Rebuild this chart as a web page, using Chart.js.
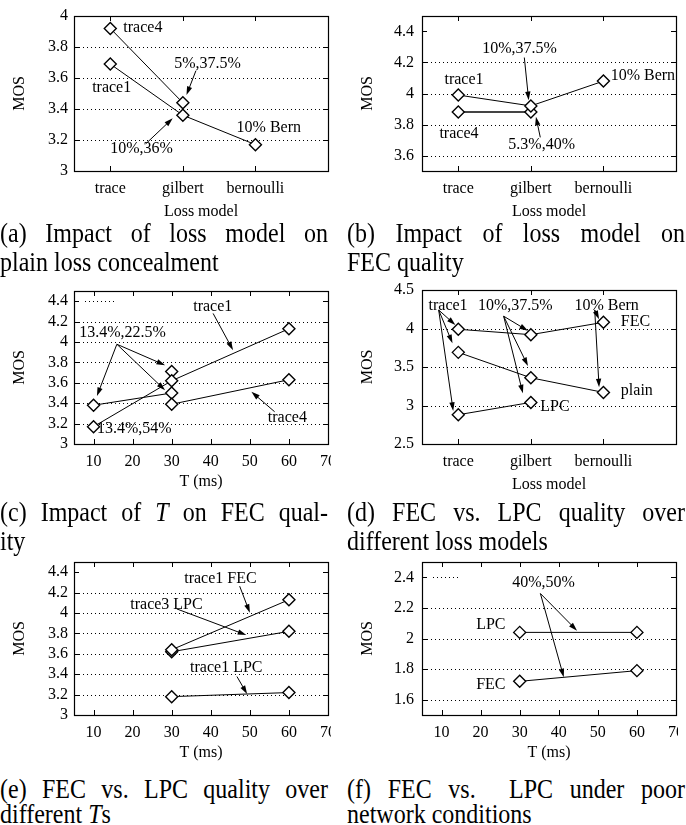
<!DOCTYPE html>
<html><head><meta charset="utf-8">
<script src="https://cdn.jsdelivr.net/npm/chart.js@4.4.1/dist/chart.umd.min.js"></script>
<style>
html,body{margin:0;padding:0;background:#fff;}
body{width:686px;height:825px;position:relative;overflow:hidden;font-family:"Liberation Serif","Times New Roman",serif;color:#000;}
.clip{position:absolute;overflow:hidden;}
.inner{position:absolute;left:0;top:0;width:343px;}
.cap{position:absolute;font-size:24px;line-height:24.5px;transform:scaleY(1.18);transform-origin:0 0;}
.j{text-align:justify;text-align-last:justify;}
</style></head>
<body>
<div class="clip" style="left:0;top:0;width:331px;height:223px"><div class="inner" style="height:223px"><canvas id="ca"></canvas></div></div>
<div class="clip" style="left:343px;top:0;width:335px;height:223px"><div class="inner" style="height:223px"><canvas id="cb"></canvas></div></div>
<div class="clip" style="left:0;top:270px;width:331px;height:223px"><div class="inner" style="height:223px"><canvas id="cc"></canvas></div></div>
<div class="clip" style="left:343px;top:270px;width:335px;height:226px"><div class="inner" style="height:226px"><canvas id="cd"></canvas></div></div>
<div class="clip" style="left:0;top:545px;width:331px;height:219px"><div class="inner" style="height:219px"><canvas id="ce"></canvas></div></div>
<div class="clip" style="left:343px;top:545px;width:335px;height:219px"><div class="inner" style="height:219px"><canvas id="cf"></canvas></div></div>

<div class="cap" style="left:0;top:218px;width:328px"><div class="j">(a) Impact of loss model on</div><div>plain loss concealment</div></div>
<div class="cap" style="left:347px;top:218px;width:338px"><div class="j">(b) Impact of loss model on</div><div>FEC quality</div></div>
<div class="cap" style="left:0;top:497px;width:328px"><div class="j">(c) Impact of <i>T</i> on FEC qual-</div><div>ity</div></div>
<div class="cap" style="left:347px;top:497px;width:338px"><div class="j">(d) FEC vs. LPC quality over</div><div>different loss models</div></div>
<div class="cap" style="left:0;top:777px;width:328px;line-height:21px"><div class="j">(e) FEC vs. LPC quality over</div><div>different <i>T</i>s</div></div>
<div class="cap" style="left:347px;top:777px;width:338px;line-height:21px"><div class="j">(f) FEC vs. &nbsp;LPC under poor</div><div>network conditions</div></div>

<script>
// ---------- data ----------
const lossCategories = ['trace', 'gilbert', 'bernoulli'];
const lossX = [1, 2, 3];
const tTicks = [10, 20, 30, 40, 50, 60, 70];

// (a) plain loss concealment
const aTrace1 = [3.69, 3.36, 3.17];
const aTrace4 = [3.92, 3.44];
const aYTicks = [3, 3.2, 3.4, 3.6, 3.8, 4];
// (b) FEC quality
const bTrace1 = [3.99, 3.92, 4.08];
const bTrace4 = [3.88, 3.88];
const bYTicks = [3.6, 3.8, 4, 4.2, 4.4];
// (c) impact of T
const cTrace1T = [10, 30, 60];
const cTrace1 = [3.17, 3.62, 4.13];
const cTrace4T = [30, 60];
const cTrace4 = [3.39, 3.63];
const cGilbT = [10, 30];
const cGilb = [3.38, 3.50];
const cSingleT = [30];
const cSingle = [3.71];
const cYTicks = [3, 3.2, 3.4, 3.6, 3.8, 4, 4.2, 4.4];
// (d) FEC vs LPC over loss models
const dFEC = [3.99, 3.92, 4.08];
const dPlain = [3.69, 3.36, 3.17];
const dLPC = [2.88, 3.04];
const dYTicks = [2.5, 3, 3.5, 4, 4.5];
// (e) FEC vs LPC over T
const eT = [30, 60];
const eTrace1FEC = [3.64, 4.13];
const eTrace3LPC = [3.62, 3.82];
const eTrace1LPC = [3.18, 3.22];
const eYTicks = [3, 3.2, 3.4, 3.6, 3.8, 4, 4.2, 4.4];
// (f) poor network
const fT = [30, 60];
const fLPC = [2.04, 2.04];
const fFEC = [1.72, 1.79];
const fYTicks = [1.6, 1.8, 2, 2.2, 2.4];

// annotations (data coordinates)
const aLabels = [['trace4', 1.18, 3.927], ['trace1', 0.75, 3.54], ['5%,37.5%', 1.88, 3.69], ['10% Bern', 2.74, 3.28], ['10%,36%', 1.0, 3.145]];
const aArrows = [[2.18, 3.647, 2.05, 3.49], [1.49, 3.176, 1.86, 3.34]];
const bLabels = [['trace1', 0.81, 4.086], ['trace4', 0.74, 3.743], ['10%,37.5%', 1.33, 4.29], ['5.3%,40%', 1.69, 3.667], ['10% Bern', 3.1, 4.112]];
const bArrows = [[1.91, 4.232, 1.97, 3.957], [2.13, 3.717, 2.07, 3.85]];
const cLabels = [['13.4%,22.5%', 6.35, 4.093], ['13.4%,54%', 10.87, 3.147], ['trace1', 35.5, 4.343], ['trace4', 54.6, 3.26]];
const cArrows = [[15.97, 3.978, 10.87, 3.47], [15.97, 3.978, 28.3, 3.773], [15.97, 3.978, 28.3, 3.528], [40.6, 4.28, 45.7, 3.92], [56.35, 3.316, 50.4, 3.512]];
const dLabels = [['trace1', 0.59, 4.29], ['10%,37.5%', 1.27, 4.29], ['10% Bern', 2.6, 4.29], ['FEC', 3.24, 4.09], ['plain', 3.24, 3.19], ['LPC', 2.13, 2.985]];
const dArrows = [[0.73, 4.24, 0.96, 4.045], [0.73, 4.24, 0.92, 3.808], [0.73, 4.24, 0.93, 2.93],
                 [1.625, 4.16, 1.96, 3.97], [1.625, 4.16, 1.96, 3.513], [1.625, 4.16, 1.89, 3.158],
                 [2.88, 4.24, 2.94, 4.12], [2.88, 4.24, 2.94, 3.236]];
const eLabels = [['trace1 FEC', 33.2, 4.338], ['trace3 LPC', 19.4, 4.084], ['trace1 LPC', 34.7, 3.459]];
const eArrows = [[47.4, 4.263, 50, 4.002], [31.3, 4.04, 49.1, 3.784], [46.7, 3.377, 49.3, 3.205]];
const fLabels = [['40%,50%', 28.07, 2.363], ['LPC', 18.87, 2.088], ['FEC', 18.87, 1.697]];
const fArrows = [[35.3, 2.294, 44.68, 2.051], [35.3, 2.294, 41.28, 1.747]];

// ---------- drawing ----------
const FONT = '"Liberation Serif", "Times New Roman", serif';
Chart.defaults.font.family = FONT;
Chart.defaults.font.size = 16;
Chart.defaults.color = '#000';

function pts(xs, ys) { return ys.map((y, i) => ({ x: xs[i], y })); }

function arrow(ctx, x1, y1, x2, y2) {
  const ang = Math.atan2(y2 - y1, x2 - x1), L = 9, W = 0.3;
  ctx.beginPath(); ctx.moveTo(x1, y1);
  ctx.lineTo(x2 - Math.cos(ang) * L * 0.7, y2 - Math.sin(ang) * L * 0.7); ctx.stroke();
  ctx.beginPath(); ctx.moveTo(x2, y2);
  ctx.lineTo(x2 - L * Math.cos(ang - W), y2 - L * Math.sin(ang - W));
  ctx.lineTo(x2 - L * Math.cos(ang + W), y2 - L * Math.sin(ang + W));
  ctx.closePath(); ctx.fill();
}

const gnuPlugin = {
  id: 'gnu',
  beforeDatasetsDraw(chart, args, o) {
    const { ctx, chartArea: a } = chart; const ys = chart.scales.y;
    ctx.save(); ctx.strokeStyle = '#000'; ctx.lineWidth = 1; ctx.setLineDash([1, 3]);
    o.yTicks.forEach((v, i) => {
      if (v <= ys.min + 1e-9 || v >= ys.max - 1e-9) return;
      const y = Math.round(ys.getPixelForValue(v)) + 0.5;
      let x1 = a.left + 5, x2 = a.right - 5;
      if (i === o.yTicks.length - 1 && o.topGrid) {
        if (o.topGrid === 'none') return;
        x1 = a.left + o.topGrid[0]; x2 = a.left + o.topGrid[1];
      }
      ctx.beginPath(); ctx.moveTo(x1, y); ctx.lineTo(x2, y); ctx.stroke();
    });
    ctx.restore();
  },
  afterDatasetsDraw(chart, args, o) {
    const { ctx, chartArea: a } = chart; const xs = chart.scales.x, ys = chart.scales.y;
    ctx.save(); ctx.strokeStyle = '#000'; ctx.fillStyle = '#000'; ctx.lineWidth = 1;
    ctx.beginPath();
    o.yTicks.forEach(v => { const y = Math.round(ys.getPixelForValue(v)) + 0.5;
      ctx.moveTo(a.left, y); ctx.lineTo(a.left + 5, y); ctx.moveTo(a.right, y); ctx.lineTo(a.right - 5, y); });
    o.xTicks.forEach(v => { const x = Math.round(xs.getPixelForValue(v)) + 0.5;
      ctx.moveTo(x, a.bottom); ctx.lineTo(x, a.bottom - 5); ctx.moveTo(x, a.top); ctx.lineTo(x, a.top + 5); });
    ctx.stroke();
    ctx.lineWidth = 1.2;
    ctx.strokeRect(Math.round(a.left) + 0.5, Math.round(a.top) + 0.5, Math.round(a.right - a.left), Math.round(a.bottom - a.top));
    ctx.lineWidth = 1;
    ctx.font = '16px ' + FONT; ctx.textAlign = 'left'; ctx.textBaseline = 'middle';
    o.labels.forEach(l => ctx.fillText(l[0], xs.getPixelForValue(l[1]), ys.getPixelForValue(l[2])));
    o.arrows.forEach(r => arrow(ctx, xs.getPixelForValue(r[0]), ys.getPixelForValue(r[1]), xs.getPixelForValue(r[2]), ys.getPixelForValue(r[3])));
    ctx.restore();
  }
};

function ds(data, extra) {
  return Object.assign({ data, showLine: true, borderColor: '#000', borderWidth: 1,
    pointStyle: 'rectRot', pointRadius: 6, pointHoverRadius: 6, pointBackgroundColor: '#fff',
    pointBorderColor: '#000', pointBorderWidth: 1.4, clip: false }, extra || {});
}

function makePanel(id, p) {
  const st = { yW: p.L, xH: p.H - p.B, padTop: p.T, padRight: p.W - p.R };
  const fmtY = v => String(Math.round(v * 10) / 10);
  const chart = new Chart(document.getElementById(id), {
    type: 'scatter',
    data: { datasets: p.datasets },
    options: {
      responsive: true, maintainAspectRatio: false, animation: false,
      layout: { padding: { top: st.padTop, right: st.padRight, left: 0, bottom: 0 } },
      plugins: { legend: { display: false }, tooltip: { enabled: false },
        gnu: { yTicks: p.yTicks, xTicks: p.xTicks, labels: p.labels, arrows: p.arrows, topGrid: p.topGrid } },
      scales: {
        x: { type: 'linear', min: p.xMin, max: p.xMax,
          afterBuildTicks: s => { s.ticks = p.xTicks.map(v => ({ value: v })); },
          ticks: { callback: p.xFmt, padding: 8, maxRotation: 0, autoSkip: false, font: { size: 16 } },
          grid: { display: false, drawTicks: false }, border: { display: false },
          title: { display: true, text: p.xTitle, font: { size: 16 }, padding: { top: 0, bottom: 2 } },
          afterFit: s => { s.height = st.xH; s.paddingLeft = 0; s.paddingRight = 0; } },
        y: { type: 'linear', min: p.yMin, max: p.yMax,
          afterBuildTicks: s => { s.ticks = p.yTicks.map(v => ({ value: v })); },
          ticks: { callback: fmtY, padding: p.yPad, autoSkip: false, font: { size: 16 } },
          grid: { display: false, drawTicks: false }, border: { display: false },
          title: { display: true, text: 'MOS', font: { size: 16 }, padding: { top: p.yTitlePad, bottom: 0 } },
          afterFit: s => { s.width = st.yW; s.paddingTop = 0; s.paddingBottom = 0; } }
      }
    },
    plugins: [gnuPlugin]
  });
  for (let k = 0; k < 4; k++) {
    const a = chart.chartArea;
    const dR = a.right - p.R, dT = p.T - a.top, dL = p.L - a.left, dB = a.bottom - p.B;
    if (Math.abs(dR) + Math.abs(dT) + Math.abs(dL) + Math.abs(dB) < 0.2) break;
    st.padRight += dR; st.padTop += dT; st.yW += dL; st.xH += dB;
    chart.options.layout.padding = { top: st.padTop, right: st.padRight, left: 0, bottom: 0 };
    chart.update();
  }
}

const catFmt = v => lossCategories[lossX.indexOf(v)] || '';
const numFmt = v => String(v);
const LEFT = { W: 343, L: 74, R: 328, yPad: 6, yTitlePad: 10.4 };
const RIGHT = { W: 343, L: 79, R: 333, yPad: 8, yTitlePad: 15.4 };

makePanel('ca', Object.assign({}, LEFT, { H: 223, T: 16, B: 171, xMin: 0.5, xMax: 4, xTicks: lossX, xFmt: catFmt, xTitle: 'Loss model',
  yMin: 3, yMax: 4, yTicks: aYTicks, labels: aLabels, arrows: aArrows, topGrid: null,
  datasets: [ds(pts(lossX, aTrace1)), ds(pts(lossX, aTrace4))] }));

makePanel('cb', Object.assign({}, RIGHT, { H: 223, T: 16, B: 171, xMin: 0.5, xMax: 4, xTicks: lossX, xFmt: catFmt, xTitle: 'Loss model',
  yMin: 3.5, yMax: 4.5, yTicks: bYTicks, labels: bLabels, arrows: bArrows, topGrid: 'none',
  datasets: [ds(pts(lossX, bTrace1)), ds(pts(lossX, bTrace4), { borderColor: '#444', borderWidth: 2 })] }));

makePanel('cc', Object.assign({}, LEFT, { H: 223, T: 21, B: 174, xMin: 5, xMax: 70, xTicks: tTicks, xFmt: numFmt, xTitle: 'T (ms)',
  yMin: 3, yMax: 4.5, yTicks: cYTicks, labels: cLabels, arrows: cArrows, topGrid: [11, 41],
  datasets: [ds(pts(cTrace1T, cTrace1)), ds(pts(cTrace4T, cTrace4)), ds(pts(cGilbT, cGilb)), ds(pts(cSingleT, cSingle))] }));

makePanel('cd', Object.assign({}, RIGHT, { H: 226, T: 20, B: 174, xMin: 0.5, xMax: 4, xTicks: lossX, xFmt: catFmt, xTitle: 'Loss model',
  yMin: 2.5, yMax: 4.5, yTicks: dYTicks, labels: dLabels, arrows: dArrows, topGrid: null,
  datasets: [ds(pts(lossX, dFEC)), ds(pts(lossX, dPlain)), ds(pts(lossX, dLPC))] }));

makePanel('ce', Object.assign({}, LEFT, { H: 219, T: 17, B: 170, xMin: 5, xMax: 70, xTicks: tTicks, xFmt: numFmt, xTitle: 'T (ms)',
  yMin: 3, yMax: 4.5, yTicks: eYTicks, labels: eLabels, arrows: eArrows, topGrid: 'none',
  datasets: [ds(pts(eT, eTrace1FEC)), ds(pts(eT, eTrace3LPC)), ds(pts(eT, eTrace1LPC))] }));

makePanel('cf', Object.assign({}, RIGHT, { H: 219, T: 17, B: 170, xMin: 5, xMax: 70, xTicks: tTicks, xFmt: numFmt, xTitle: 'T (ms)',
  yMin: 1.5, yMax: 2.5, yTicks: fYTicks, labels: fLabels, arrows: fArrows, topGrid: [11, 36],
  datasets: [ds(pts(fT, fLPC)), ds(pts(fT, fFEC))] }));
</script>
</body></html>
